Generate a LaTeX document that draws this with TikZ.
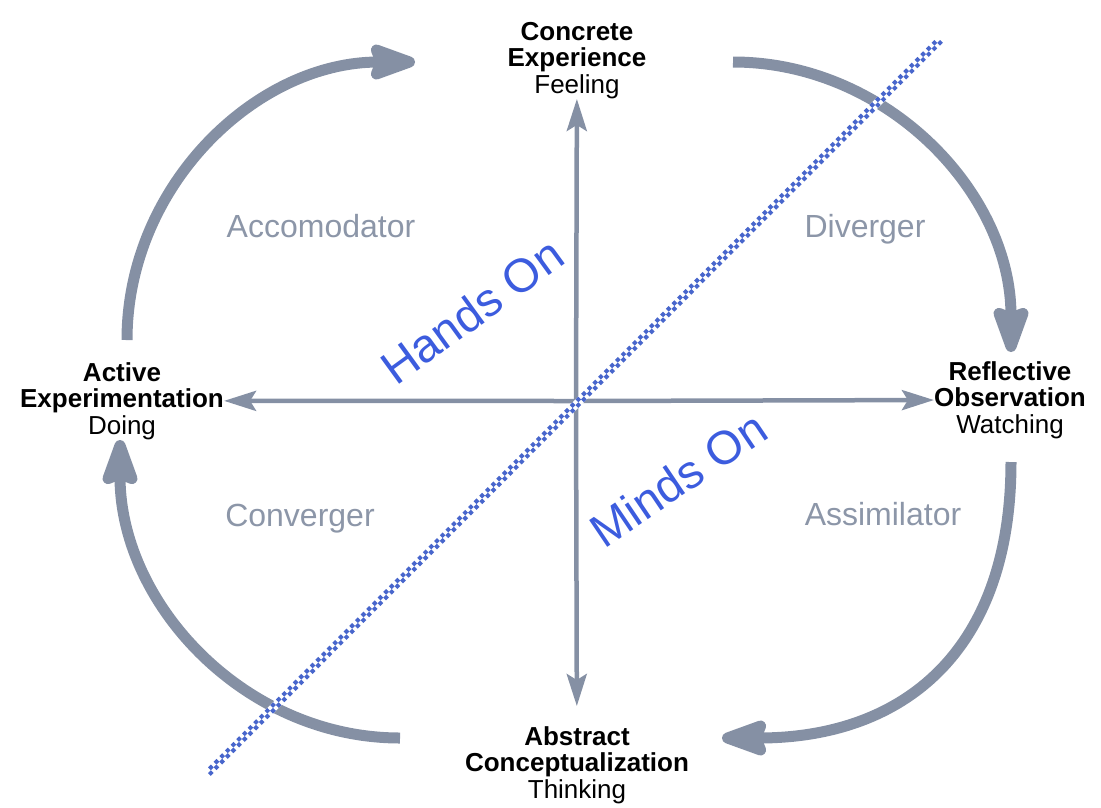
\documentclass[tikz,border=0pt]{standalone}
\usepackage{fontspec}
\setmainfont{Liberation Sans}
\usetikzlibrary{arrows.meta, positioning}
\definecolor{cyclegray}{RGB}{133,144,164}
\definecolor{stylegray}{RGB}{140,150,168}
\definecolor{handsblue}{RGB}{60,92,222}
\definecolor{checkblue}{RGB}{72,102,204}
\tikzset{
  mode/.style={align=center, inner sep=0pt, font=\fontsize{26}{26.5}\selectfont},
  learner/.style={text=stylegray, inner sep=0pt, font=\fontsize{32}{32}\selectfont},
  hands/.style={text=handsblue, inner sep=0pt, font=\fontsize{47}{47}\selectfont},
  axis/.style={cyclegray, line width=4.5pt, -{Stealth[length=32pt, width=20pt, inset=6pt]}},
  cycle/.style={cyclegray, line width=11pt, -{Stealth[length=58pt, width=40pt, inset=7pt, round]}},
  checker/.style={checkblue, line width=4pt, dash pattern=on 4pt off 4pt},
}
\begin{document}
\begin{tikzpicture}[x=1pt, y=-1pt]
\useasboundingbox (0,0) rectangle (1101,807);

% Learning modes
\node (concrete) [mode, anchor=north] at (577,22) {\textbf{Concrete}\\\textbf{Experience}\\Feeling};
\node (reflective) [mode, anchor=north] at (1010,361) {\textbf{Reflective}\\\textbf{Observation}\\Watching};
\node (abstract) [mode, anchor=north] at (577,726) {\textbf{Abstract}\\\textbf{Conceptualization}\\Thinking};
\node (active) [mode, anchor=north] at (122,362) {\textbf{Active}\\\textbf{Experimentation}\\Doing};

% Learning styles
\node (accom) [learner, anchor=base] at (321,237) {Accomodator};
\node (diverg) [learner, anchor=base] at (865,237) {Diverger};
\node (converg) [learner, anchor=base] at (300,526) {Converger};
\node (assim) [learner, anchor=base] at (883,525) {Assimilator};

% Axes
\coordinate (origin) at (576,401);
\draw [axis] (origin) -- (concrete);
\draw [axis] (origin) -- (reflective);
\draw [axis, shorten >=20pt] (origin) -- (abstract);
\draw [axis] (origin) -- (active);

% Cycle
\coordinate (doingup) at (127,340);
\coordinate (feelleft) at (415,62);
\coordinate (feelright) at (733,62);
\coordinate (watchup) at (1011,352);
\coordinate (watchdown) at (1011,462);
\coordinate (thinkright) at (722,738);
\coordinate (thinkleft) at (400,738);
\coordinate (doingdown) at (120,440);
\draw [cycle] (doingup) .. controls (127,186) and (256,62) .. (feelleft);
\draw [cycle] (feelright) .. controls (886,62) and (1011,192) .. (watchup);
\draw [cycle] (watchdown) .. controls (1011,650) and (905,738) .. (thinkright);
\draw [cycle] (thinkleft) .. controls (245,738) and (120,604) .. (doingdown);

% Hands On / Minds On
\node (handson) [hands, rotate=36] at (472,311) {Hands On};
\node (mindson) [hands, rotate=34] at (678,479) {Minds On};

% Diagonal
\coordinate (diagA) at (208,773);
\coordinate (diagB) at (940,40);
\draw [white, line width=8pt] (diagA) -- (diagB);
\draw [checker, transform canvas={xshift=1.41pt, yshift=-1.41pt}] (diagA) -- (diagB);
\draw [checker, dash phase=4pt, transform canvas={xshift=-1.41pt, yshift=1.41pt}] (diagA) -- (diagB);

\end{tikzpicture}
\end{document}
